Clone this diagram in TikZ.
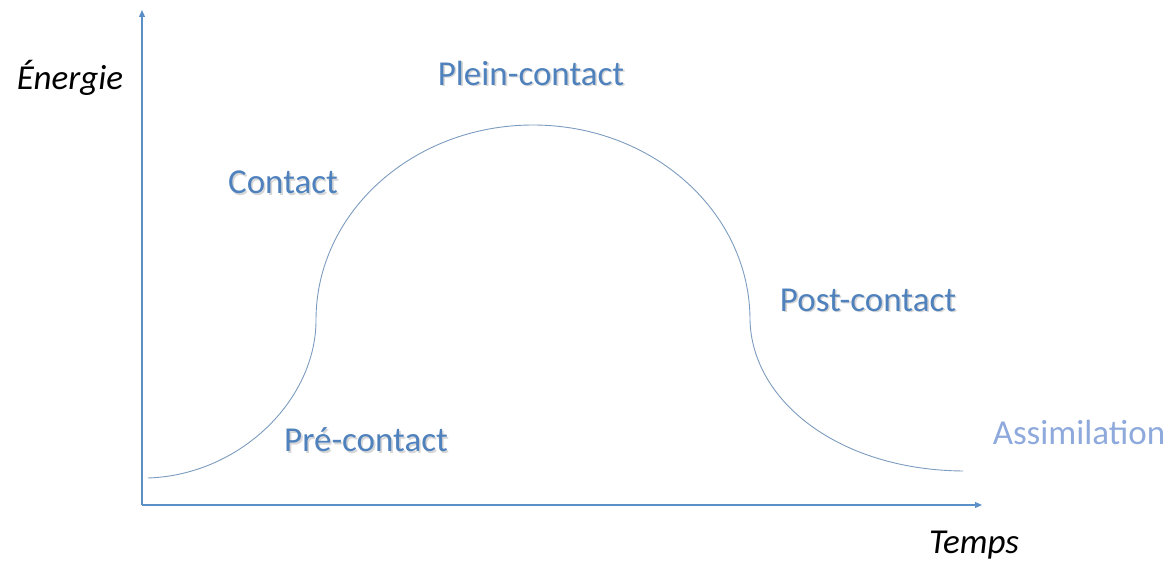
\documentclass[tikz,border=0pt]{standalone}
\usepackage{fontspec}
\setmainfont{Carlito}
\usetikzlibrary{arrows.meta}
\definecolor{axisblue}{HTML}{5B8FC7}
\definecolor{curveblue}{HTML}{7C9CBF}
\definecolor{labelblue}{HTML}{4F81BD}
\definecolor{lightblue}{HTML}{8EA9DB}
\tikzset{
  axis/.style={draw=axisblue, line width=1.2pt, -{Triangle[length=7pt,width=6pt]}},
  phase/.style={draw=curveblue, line width=0.9pt},
  lbl/.style={font=\fontsize{35}{40}\selectfont, text=labelblue, inner sep=0pt},
  lblshadow/.style={font=\fontsize{35}{40}\selectfont, text=black!45, opacity=0.35, inner sep=0pt},
  axlbl/.style={font=\fontsize{35}{40}\selectfont\itshape, text=black, inner sep=0pt},
}
% #1 name, #2 x, #3 y, #4 text
\newcommand{\shadowlabel}[4]{%
  \node[lblshadow] at (#2+1.6,#3+1.8) {#4};
  \node[lbl] (#1) at (#2,#3) {#4};}
\begin{document}
\begin{tikzpicture}[x=1pt,y=-1pt]
\useasboundingbox (0,0) rectangle (1172,564);
% axes
\coordinate (origin) at (142,505);
\coordinate (ytop) at (142,10);
\coordinate (xend) at (982,505);
\draw[axis] (origin) -- (ytop);
\draw[axis] (origin) -- (xend);
% energy curve
\coordinate (start) at (148,478);
\coordinate (rise) at (316,320);
\coordinate (fall) at (750,320);
\coordinate (finish) at (963,471);
\draw[phase] (start) .. controls (240,475) and (316,400) .. (rise)
  arc[start angle=180, end angle=0, x radius=217, y radius=-195]
  .. controls (752,402) and (840,470) .. (finish);
% phase labels
\shadowlabel{contact}{283}{182}{Contact}
\shadowlabel{plein}{531}{73}{Plein-contact}
\shadowlabel{post}{868}{300}{Post-contact}
\shadowlabel{pre}{366}{440}{Pré-contact}
\node[lbl, text=lightblue] (assim) at (1079,432) {Assimilation};
% axis labels
\node[axlbl] (energie) at (70,78) {Énergie};
\node[axlbl] (temps) at (974,545) {Temps};
\end{tikzpicture}
\end{document}
